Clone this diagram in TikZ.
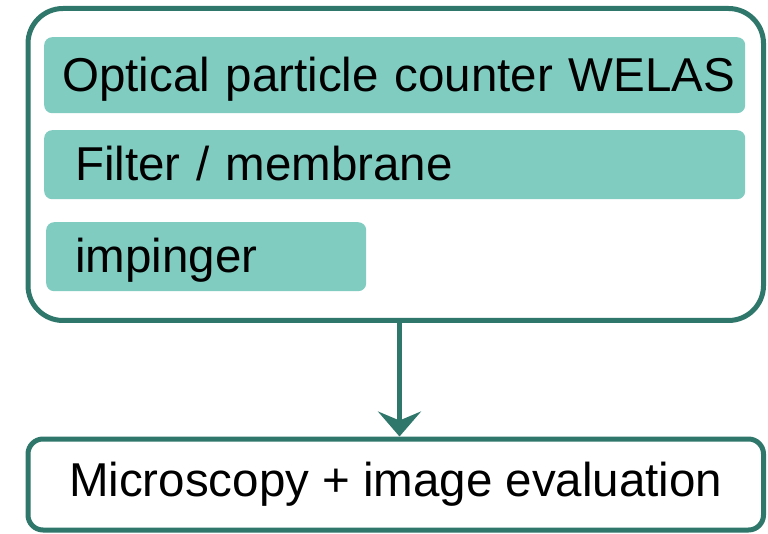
\documentclass[tikz,border=0pt]{standalone}
\usepackage{fontspec}
\setmainfont{Liberation Sans}
\usepackage{xcolor}
\usepackage{tikz}
\usetikzlibrary{arrows.meta, positioning}

\definecolor{tealdark}{HTML}{2F776A}
\definecolor{tealfill}{HTML}{80CCC1}

\begin{document}
\begin{tikzpicture}[>=Stealth, x=1pt, y=-1pt,
    frame/.style={draw=tealdark, line width=5pt, rounded corners=#1,
        fill=white, inner sep=0pt, anchor=north west, minimum width=735.5pt},
    bar/.style={fill=tealfill, rounded corners=8pt, anchor=north west,
        minimum height=#1, inner ysep=0pt, align=left,
        text height=34pt, text depth=2pt,
        font=\fontsize{47.5}{50}\selectfont},
    flow/.style={->, draw=tealdark, line width=4.5pt,
        >={Stealth[length=25pt, width=43pt, inset=9pt]}}]

\useasboundingbox (0,0) rectangle (768,534);

% ============================================================
% sampling set-up
% ============================================================

\node[frame=35pt, minimum height=312pt] (setup) at (25.5,6) {};

\node[bar=76pt, text width=665pt, inner xsep=18pt] (welas)    at (44,37)
    {\mbox{Optical particle counter WELAS}};
\node[bar=69pt, text width=639pt, inner xsep=31pt] (filter)   at (44,130)
    {Filter / membrane};
\node[bar=69pt, text width=262pt, inner xsep=29pt] (impinger) at (46,222)
    {impinger};

% ============================================================
% evaluation
% ============================================================

\node[frame=15pt, minimum height=91pt, font=\fontsize{47.5}{50}\selectfont]
    (result) at (25.5,436.5) {Microscopy + image evaluation};

\draw[flow] ([xshift=3.75pt]setup.south) -- ([xshift=3.75pt]result.north);

\end{tikzpicture}
\end{document}
